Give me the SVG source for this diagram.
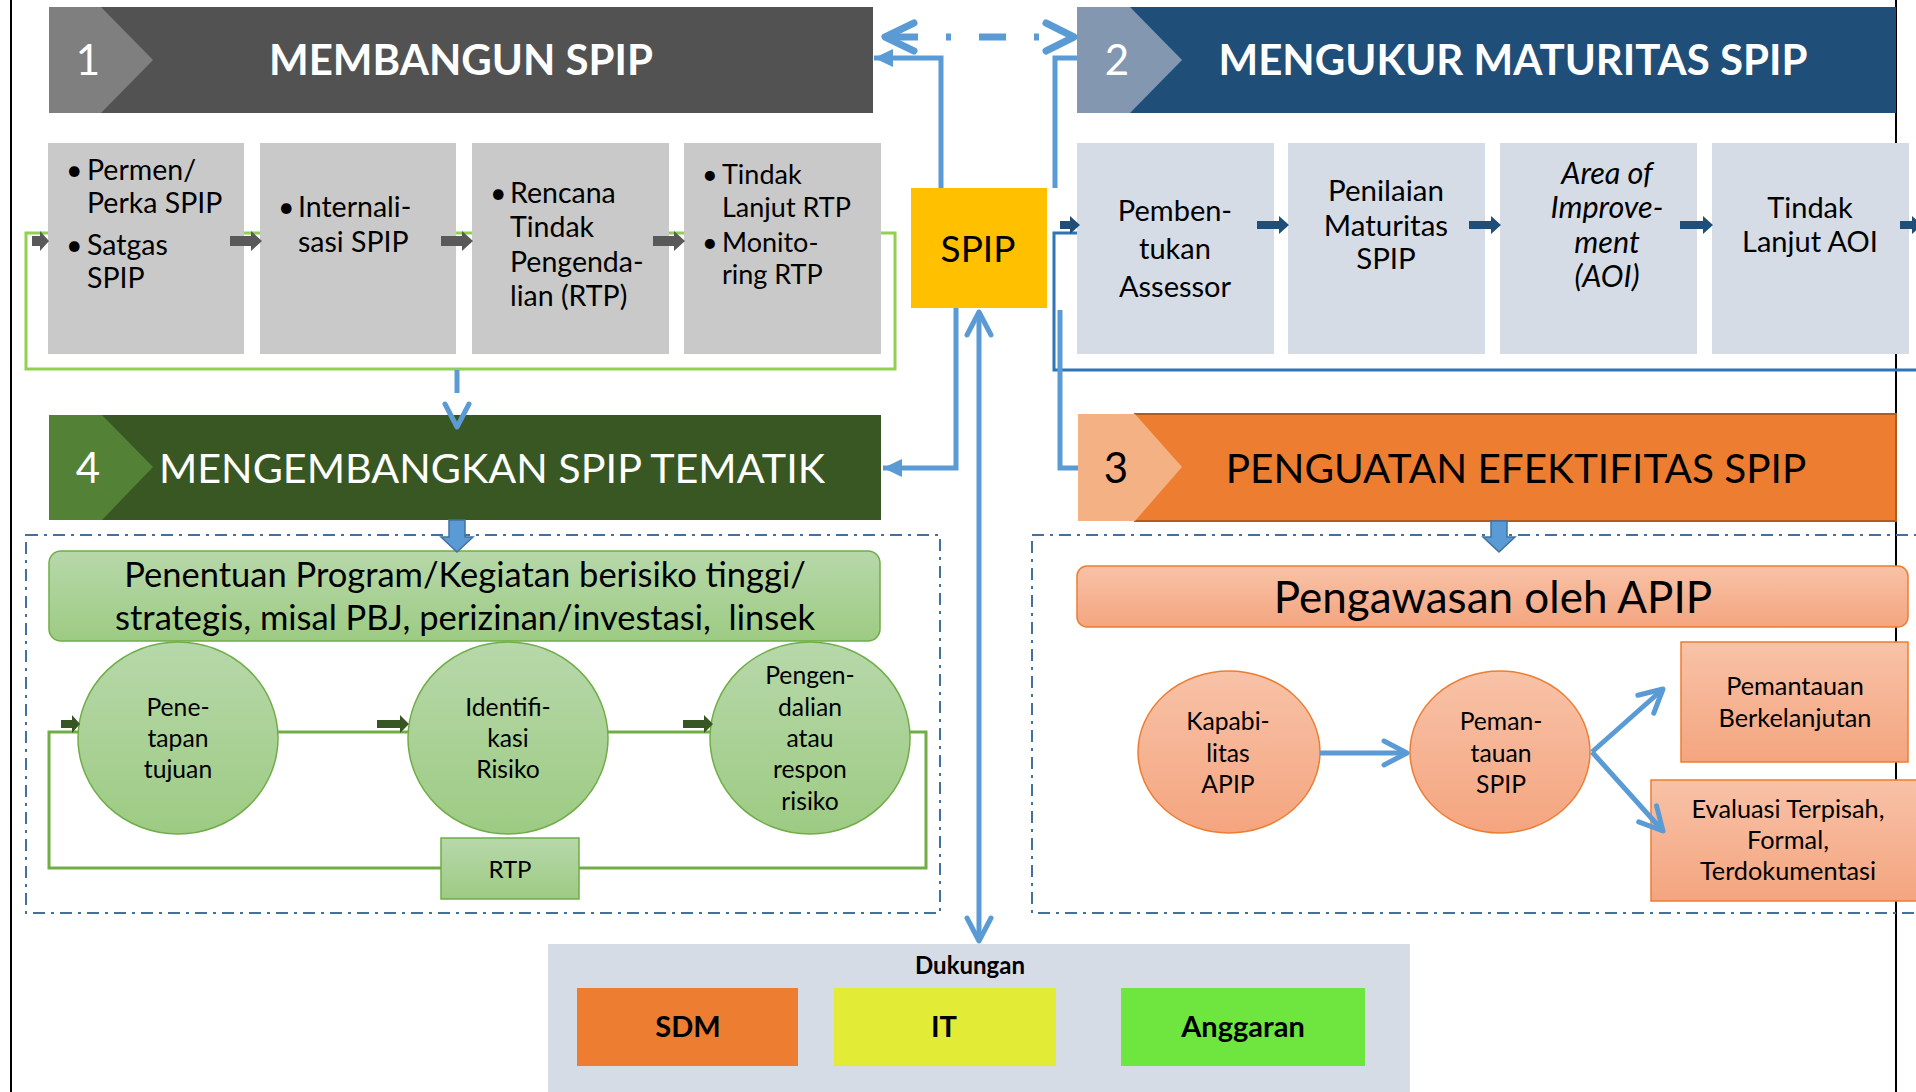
<svg xmlns="http://www.w3.org/2000/svg" width="1916" height="1092" viewBox="0 0 1916 1092">
  <defs>
    <linearGradient id="gGreen" x1="0" y1="0" x2="0" y2="1">
      <stop offset="0" stop-color="#B7D8AA"/>
      <stop offset="1" stop-color="#9DCB83"/>
    </linearGradient>
    <linearGradient id="gSalmon" x1="0" y1="0" x2="0" y2="1">
      <stop offset="0" stop-color="#F8C2A7"/>
      <stop offset="1" stop-color="#F4A57F"/>
    </linearGradient>
    <!-- open chevron head for the thin blue connectors -->
    <marker id="vHead" markerUnits="userSpaceOnUse" viewBox="-30 -20 40 40" markerWidth="40" markerHeight="40" refX="0" refY="0" orient="auto-start-reverse">
      <path d="M-23,-12 L0,0 L-23,12" fill="none" stroke="#5B9BD5" stroke-width="5" stroke-linecap="round" stroke-linejoin="round"/>
    </marker>
    <!-- solid triangle head -->
    <marker id="triHead" markerUnits="userSpaceOnUse" viewBox="-20 -10 22 20" markerWidth="22" markerHeight="20" refX="0" refY="0" orient="auto">
      <path d="M-19,-9 L0,0 L-19,9 Z" fill="#5B9BD5"/>
    </marker>
  </defs>
  <style>
    text { font-family: Lato, "Open Sans", "Liberation Sans", sans-serif; }
    .num { font-size: 42px; }
    .titleB { font-size: 42px; font-weight: bold; fill: #FFFFFF; }
    .r1 { font-size: 28.5px; fill: #000; }
    .r2 { font-size: 29px; fill: #000; }
    .c { font-size: 24.7px; fill: #000; text-anchor: middle; }
    .sal { font-size: 25.3px; fill: #000; text-anchor: middle; }
    .dk { font-size: 29px; font-weight: bold; fill: #000; text-anchor: middle; }
    .mid { text-anchor: middle; }
    .box1 { fill: #C9C9C9; }
    .box2 { fill: #D6DCE5; }
    .grn { fill: url(#gGreen); stroke: #70AD47; stroke-width: 1.5; }
    .slm { fill: url(#gSalmon); stroke: #ED7D31; stroke-width: 1.5; }
    .dash { fill: none; stroke: #41719C; stroke-width: 2; stroke-dasharray: 12 6 3 6; }
    .blue { fill: none; stroke: #5B9BD5; stroke-width: 5; }
    .blk { fill: #5B9BD5; stroke: #41719C; stroke-width: 1.5; }
  </style>

  <rect x="0" y="0" width="1916" height="1092" fill="#FFFFFF"/>

  <!-- page frame edges -->
  <line x1="11" y1="0" x2="11" y2="1092" stroke="#000" stroke-width="2"/>
  <line x1="1896" y1="0" x2="1896" y2="1092" stroke="#000" stroke-width="2"/>

  <!-- dotted containers -->
  <rect x="26" y="535" width="914" height="378" class="dash"/>
  <rect x="1032" y="535" width="900" height="378" class="dash"/>

  <!-- loop lines that run behind the step boxes -->
  <g id="connectors-back">
    <rect x="26" y="233" width="869" height="136" fill="none" stroke="#92D050" stroke-width="3"/>
    <path d="M1077,233 H1054 V370 H1920" fill="none" stroke="#2E75B6" stroke-width="3"/>
    <rect x="49" y="732" width="877" height="136" fill="none" stroke="#70AD47" stroke-width="3"/>
  </g>

  <!-- 1 MEMBANGUN SPIP -->
  <g id="banner1">
    <rect x="101" y="7" width="772" height="106" fill="#525252"/>
    <polygon points="49,7 101,7 153,60 101,113 49,113" fill="#7F7F7F"/>
    <text x="88" y="75" class="num mid" fill="#FFFFFF">1</text>
    <text x="461" y="75" class="titleB mid">MEMBANGUN SPIP</text>
  </g>

  <!-- 2 MENGUKUR MATURITAS SPIP -->
  <g id="banner2">
    <rect x="1130" y="7" width="766" height="106" fill="#1F4E79"/>
    <polygon points="1077,7 1130,7 1182,60 1130,113 1077,113" fill="#8497B0"/>
    <text x="1117" y="75" class="num mid" fill="#FFFFFF">2</text>
    <text x="1513" y="75" class="titleB mid">MENGUKUR MATURITAS SPIP</text>
  </g>

  <!-- 3 PENGUATAN EFEKTIFITAS SPIP -->
  <g id="banner3">
    <rect x="1135" y="414" width="761" height="107" fill="#ED7D31" stroke="#B45A1C" stroke-width="2"/>
    <polygon points="1078,414 1135,414 1182,467 1135,521 1078,521" fill="#F4B183"/>
    <text x="1116" y="483" class="num mid" fill="#000">3</text>
    <text x="1516" y="483" class="mid" style="font-size:40.5px" fill="#000">PENGUATAN EFEKTIFITAS SPIP</text>
  </g>

  <!-- 4 MENGEMBANGKAN SPIP TEMATIK -->
  <g id="banner4">
    <rect x="102" y="415" width="779" height="105" fill="#385723"/>
    <polygon points="49,415 102,415 153,467 102,520 49,520" fill="#538135"/>
    <text x="88" y="483" class="num mid" fill="#FFFFFF">4</text>
    <text x="492" y="483" class="mid" style="font-size:41.3px" fill="#FFFFFF">MENGEMBANGKAN SPIP TEMATIK</text>
  </g>

  <!-- steps of banner 1 -->
  <g id="step1-permen">
    <rect x="48" y="143" width="196" height="211" class="box1"/>
    <text class="r1"><tspan x="66" y="180">•</tspan><tspan x="87" y="180">Permen/</tspan><tspan x="87" y="213">Perka SPIP</tspan><tspan x="66" y="255">•</tspan><tspan x="87" y="255">Satgas</tspan><tspan x="87" y="288">SPIP</tspan></text>
  </g>
  <g id="step1-internalisasi">
    <rect x="260" y="143" width="196" height="211" class="box1"/>
    <text class="r1"><tspan x="278" y="217">•</tspan><tspan x="298" y="217">Internali-</tspan><tspan x="298" y="252">sasi SPIP</tspan></text>
  </g>
  <g id="step1-rtp">
    <rect x="472" y="143" width="197" height="211" class="box1"/>
    <text class="r1"><tspan x="490" y="203">•</tspan><tspan x="510" y="203">Rencana</tspan><tspan x="510" y="237">Tindak</tspan><tspan x="510" y="272">Pengenda-</tspan><tspan x="510" y="306">lian (RTP)</tspan></text>
  </g>
  <g id="step1-tindak-lanjut">
    <rect x="684" y="143" width="197" height="211" class="box1"/>
    <text class="r1" style="font-size:27px"><tspan x="702" y="184">•</tspan><tspan x="722" y="184">Tindak</tspan><tspan x="722" y="217">Lanjut RTP</tspan><tspan x="702" y="252">•</tspan><tspan x="722" y="252">Monito-</tspan><tspan x="722" y="284">ring RTP</tspan></text>
  </g>

  <!-- steps of banner 2 -->
  <g id="step2-assessor">
    <rect x="1077" y="143" width="197" height="211" class="box2"/>
    <text class="r2 mid"><tspan x="1175" y="221">Pemben-</tspan><tspan x="1175" y="259">tukan</tspan><tspan x="1175" y="297">Assessor</tspan></text>
  </g>
  <g id="step2-penilaian">
    <rect x="1288" y="143" width="197" height="211" class="box2"/>
    <text class="r2 mid" style="font-size:29.5px"><tspan x="1386" y="201">Penilaian</tspan><tspan x="1386" y="236">Maturitas</tspan><tspan x="1386" y="269">SPIP</tspan></text>
  </g>
  <g id="step2-aoi">
    <rect x="1500" y="143" width="197" height="211" class="box2"/>
    <text class="r2 mid" style="font-size:30.5px" font-style="italic"><tspan x="1607" y="184">Area of</tspan><tspan x="1607" y="218">Improve-</tspan><tspan x="1607" y="253">ment</tspan><tspan x="1607" y="287">(AOI)</tspan></text>
  </g>
  <g id="step2-tindak-lanjut">
    <rect x="1712" y="143" width="197" height="211" class="box2"/>
    <text class="r2 mid"><tspan x="1810" y="218">Tindak</tspan><tspan x="1810" y="252">Lanjut AOI</tspan></text>
  </g>

  <!-- central hub -->
  <g id="spip">
    <rect x="911" y="188" width="136" height="120" fill="#FFC000"/>
    <text x="978" y="262" class="mid" style="font-size:37px" fill="#000">SPIP</text>
  </g>

  <!-- banner 4 content -->
  <g id="penentuan-program">
    <rect x="49" y="551" width="831" height="90" rx="12" class="grn"/>
    <text class="mid" style="font-size:34.5px;white-space:pre" fill="#000"><tspan x="465" y="587">Penentuan Program/Kegiatan berisiko tinggi/</tspan><tspan x="465" y="630">strategis, misal PBJ, perizinan/investasi,  linsek</tspan></text>
  </g>
  <g id="penetapan-tujuan">
    <ellipse cx="178" cy="738" rx="100" ry="96" class="grn"/>
    <text class="c"><tspan x="178" y="716">Pene-</tspan><tspan x="178" y="747">tapan</tspan><tspan x="178" y="778">tujuan</tspan></text>
  </g>
  <g id="identifikasi-risiko">
    <ellipse cx="508" cy="738" rx="100" ry="96" class="grn"/>
    <text class="c"><tspan x="508" y="716">Identifi-</tspan><tspan x="508" y="747">kasi</tspan><tspan x="508" y="778">Risiko</tspan></text>
  </g>
  <g id="pengendalian-risiko">
    <ellipse cx="810" cy="738" rx="100" ry="96" class="grn"/>
    <text class="c"><tspan x="810" y="684">Pengen-</tspan><tspan x="810" y="716">dalian</tspan><tspan x="810" y="747">atau</tspan><tspan x="810" y="778">respon</tspan><tspan x="810" y="810">risiko</tspan></text>
  </g>
  <g id="rtp">
    <rect x="441" y="838" width="138" height="61" class="grn"/>
    <text x="510" y="878" class="c" style="font-size:24px">RTP</text>
  </g>

  <!-- banner 3 content -->
  <g id="pengawasan-apip">
    <rect x="1077" y="566" width="831" height="61" rx="10" class="slm"/>
    <text x="1493" y="613" class="mid" style="font-size:44px" fill="#000">Pengawasan oleh APIP</text>
  </g>
  <g id="kapabilitas-apip">
    <ellipse cx="1229" cy="752" rx="91" ry="81" class="slm"/>
    <text class="c"><tspan x="1228" y="730">Kapabi-</tspan><tspan x="1228" y="762">litas</tspan><tspan x="1228" y="793">APIP</tspan></text>
  </g>
  <g id="pemantauan-spip">
    <ellipse cx="1500" cy="752" rx="90" ry="81" class="slm"/>
    <text class="c"><tspan x="1501" y="730">Peman-</tspan><tspan x="1501" y="762">tauan</tspan><tspan x="1501" y="793">SPIP</tspan></text>
  </g>
  <g id="pemantauan-berkelanjutan">
    <rect x="1681" y="642" width="227" height="120" class="slm"/>
    <text class="sal"><tspan x="1795" y="695">Pemantauan</tspan><tspan x="1795" y="727">Berkelanjutan</tspan></text>
  </g>
  <g id="evaluasi-terpisah">
    <rect x="1651" y="780" width="274" height="121" class="slm"/>
    <text class="sal"><tspan x="1788" y="818">Evaluasi Terpisah,</tspan><tspan x="1788" y="849">Formal,</tspan><tspan x="1788" y="880">Terdokumentasi</tspan></text>
  </g>

  <!-- support -->
  <g id="dukungan">
    <rect x="548" y="944" width="862" height="160" fill="#D6DCE5"/>
    <text x="970" y="974" class="mid" style="font-size:24px;font-weight:bold" fill="#000">Dukungan</text>
  </g>
  <g id="sdm">
    <rect x="577" y="988" width="221" height="78" fill="#ED7D31"/>
    <text x="688" y="1037" class="dk">SDM</text>
  </g>
  <g id="it">
    <rect x="834" y="988" width="222" height="78" fill="#E2EB35"/>
    <text x="944" y="1037" class="dk">IT</text>
  </g>
  <g id="anggaran">
    <rect x="1121" y="988" width="244" height="78" fill="#6FE640"/>
    <text x="1243" y="1037" class="dk">Anggaran</text>
  </g>

  <!-- connectors -->
  <g id="connectors">
    <!-- dashed two-way link between banners 1 and 2 -->
    <g stroke="#5B9BD5" stroke-width="7" fill="none" stroke-linecap="round" stroke-linejoin="round">
      <path d="M886,37 H918 M946,37 H951 M979,37 H1006 M1034,37 H1039" stroke-linecap="butt"/>
      <path d="M914,23 L885,37 L914,51"/>
      <path d="M1046,23 L1074,37 L1046,51"/>
    </g>
    <!-- hub to banners -->
    <path d="M941,188 V58 H874" class="blue" marker-end="url(#triHead)"/>
    <path d="M1055,188 V58 H1077" class="blue"/>
    <path d="M956,308 V468 H883" class="blue" marker-end="url(#triHead)"/>
    <path d="M1060,310 V468 H1078" class="blue"/>
    <line x1="979" y1="312" x2="979" y2="941" class="blue" marker-start="url(#vHead)" marker-end="url(#vHead)"/>
    <!-- banner 1 loop into banner 4 -->
    <line x1="457" y1="370" x2="457" y2="393" class="blue"/>
    <path d="M445,404 L457,427 L469,404" fill="none" stroke="#5B9BD5" stroke-width="5" stroke-linecap="round" stroke-linejoin="round"/>
    <!-- banner outputs -->
    <path d="M449,520 H465 V537 H473 L457,552 L441,537 H449 Z" class="blk"/>
    <path d="M1491,521 H1507 V537 H1515 L1499,552 L1483,537 H1491 Z" class="blk"/>
    <!-- banner 3 flow -->
    <line x1="1320" y1="753" x2="1407" y2="753" class="blue" marker-end="url(#vHead)"/>
    <line x1="1592" y1="752" x2="1663" y2="689" class="blue" marker-end="url(#vHead)"/>
    <line x1="1592" y1="752" x2="1663" y2="831" class="blue" marker-end="url(#vHead)"/>
    <!-- step arrows, banner 1 -->
    <g fill="#595959">
      <path d="M32,236 H40 V231 L49,241 L40,251 V246 H32 Z"/>
      <path d="M230,236 H251 V231 L262,241 L251,251 V246 H230 Z"/>
      <path d="M441,236 H462 V231 L473,241 L462,251 V246 H441 Z"/>
      <path d="M653,236 H674 V231 L685,241 L674,251 V246 H653 Z"/>
    </g>
    <!-- step arrows, banner 2 -->
    <g fill="#1F4E79">
      <path d="M1060,221 H1070 V216 L1080,225 L1070,234 V229 H1060 Z"/>
      <path d="M1257,221 H1279 V216 L1289,225 L1279,234 V229 H1257 Z"/>
      <path d="M1469,221 H1491 V216 L1501,225 L1491,234 V229 H1469 Z"/>
      <path d="M1680,221 H1703 V216 L1713,225 L1703,234 V229 H1680 Z"/>
      <path d="M1900,221 H1912 V216 L1922,225 L1912,234 V229 H1900 Z"/>
    </g>
    <!-- risk cycle arrows -->
    <g fill="#375623">
      <path d="M61,720 H72 V715 L80,724 L72,733 V728 H61 Z"/>
      <path d="M377,720 H400 V715 L409,724 L400,733 V728 H377 Z"/>
      <path d="M683,720 H704 V715 L713,724 L704,733 V728 H683 Z"/>
    </g>
  </g>
</svg>
